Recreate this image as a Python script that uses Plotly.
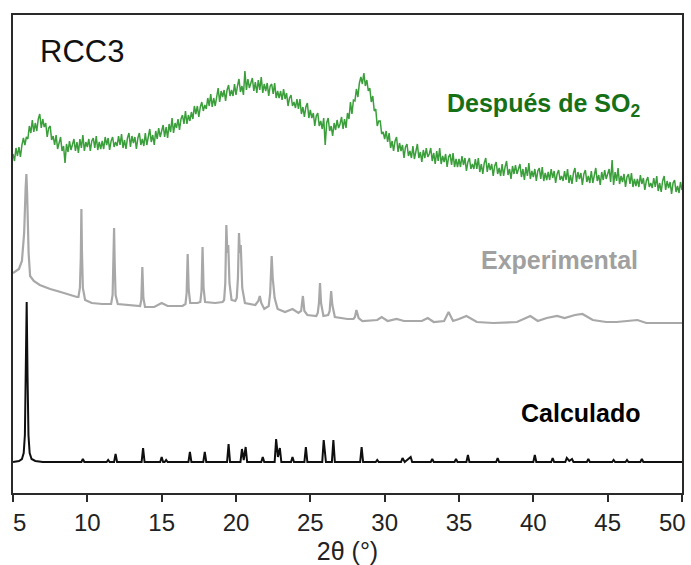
import numpy as np
import plotly.graph_objects as go

# --- Patrón tras exposición a SO2 (paso 0.1° en 2θ, 5–50°) ---
two_theta_so2 = np.linspace(5.0, 50.0, 451)
int_so2 = [
    339, 332, 345, 337, 346, 336, 348, 355, 348, 356,   # 5
    354, 367, 360, 373, 361, 370, 362, 374, 379, 365,   # 6
    374, 366, 370, 356, 365, 367, 353, 357, 348, 358,   # 7
    344, 351, 356, 342, 347, 330, 349, 341, 352, 343,   # 8
    348, 354, 342, 351, 340, 354, 345, 358, 342, 351,   # 9
    346, 354, 342, 352, 355, 345, 357, 343, 351, 344,   # 10
    352, 344, 356, 348, 355, 343, 352, 356, 346, 351,   # 11
    347, 357, 348, 359, 345, 353, 344, 355, 360, 346,   # 12
    357, 350, 356, 344, 355, 360, 348, 354, 347, 360,   # 13
    348, 357, 364, 351, 358, 348, 362, 354, 365, 356,   # 14
    361, 368, 356, 366, 355, 369, 361, 375, 360, 370,   # 15
    365, 374, 363, 374, 378, 369, 382, 369, 378, 372,   # 16
    381, 374, 387, 379, 387, 376, 386, 391, 382, 388,   # 17
    384, 395, 387, 399, 386, 395, 387, 399, 405, 391,   # 18
    402, 396, 403, 392, 403, 408, 397, 403, 397, 409,   # 19
    398, 407, 414, 401, 407, 398, 422, 403, 414, 405,   # 20
    409, 415, 402, 411, 400, 413, 403, 416, 400, 409,   # 21
    402, 410, 397, 407, 409, 399, 410, 395, 402, 395,   # 22
    402, 393, 404, 394, 400, 387, 395, 398, 387, 391,   # 23
    385, 394, 384, 394, 379, 386, 376, 386, 390, 375,   # 24
    383, 375, 380, 367, 377, 380, 367, 372, 364, 375,   # 25
    348, 370, 375, 362, 367, 357, 370, 363, 373, 365,   # 26
    369, 376, 364, 374, 365, 380, 374, 391, 379, 393,   # 27
    392, 404, 396, 410, 416, 409, 420, 407, 413, 402,   # 28
    405, 391, 397, 382, 384, 367, 372, 372, 359, 361,   # 29
    354, 362, 351, 360, 345, 352, 342, 352, 356, 341,   # 30
    350, 342, 348, 335, 346, 349, 337, 342, 335, 347,   # 31
    334, 343, 349, 335, 341, 331, 343, 335, 345, 336,   # 32
    339, 345, 332, 340, 329, 342, 332, 345, 329, 337,   # 33
    331, 339, 326, 336, 339, 328, 340, 326, 334, 326,   # 34
    334, 326, 337, 328, 335, 322, 331, 335, 324, 329,   # 35
    324, 334, 324, 335, 321, 329, 319, 330, 335, 321,   # 36
    330, 323, 329, 317, 327, 331, 319, 325, 317, 329,   # 37
    317, 326, 332, 318, 324, 314, 327, 319, 328, 319,   # 38
    323, 329, 316, 324, 313, 326, 317, 330, 314, 322,   # 39
    316, 324, 312, 322, 325, 314, 326, 312, 320, 313,   # 40
    321, 313, 324, 315, 322, 310, 319, 323, 313, 317,   # 41
    312, 322, 313, 324, 310, 318, 309, 320, 325, 311,   # 42
    321, 314, 320, 308, 319, 323, 311, 317, 310, 322,   # 43
    310, 319, 325, 312, 318, 308, 321, 313, 323, 314,   # 44
    318, 324, 311, 333, 308, 321, 312, 325, 309, 317,   # 45
    311, 319, 306, 316, 319, 309, 320, 306, 314, 307,   # 46
    314, 306, 318, 309, 315, 303, 312, 316, 306, 310,   # 47
    305, 315, 306, 317, 302, 310, 301, 312, 317, 303,   # 48
    312, 305, 311, 299, 310, 313, 301, 307, 300, 311,   # 49
    303,                                                # 50
]

# --- Patrón experimental ---
two_theta_exp = [
    5.0, 5.4, 5.6, 5.75, 5.85, 5.9, 5.95, 6.05, 6.15, 6.4, 6.8, 7.5, 8.2, 8.8, 9.3,
    9.4, 9.5, 9.56, 9.6, 9.64, 9.7, 9.85, 10.3, 11.0,
    11.6, 11.7, 11.76, 11.8, 11.84, 11.9, 12.05, 12.8,
    13.55, 13.63, 13.7, 13.77, 13.88, 14.5, 15.0, 15.4, 16.4,
    16.6, 16.68, 16.75, 16.82, 16.92, 17.4,
    17.6, 17.68, 17.75, 17.82, 17.92, 18.6, 19.1,
    19.2, 19.28, 19.35, 19.42, 19.48, 19.56, 19.7, 19.95,
    20.05, 20.13, 20.2, 20.26, 20.32, 20.42, 20.6,
    21.3, 21.5, 21.6, 21.7, 21.9,
    22.2, 22.3, 22.4, 22.47, 22.6, 22.8, 23.3, 23.8, 24.2,
    24.38, 24.5, 24.6, 24.8, 25.4,
    25.5, 25.58, 25.65, 25.72, 25.88, 26.2,
    26.3, 26.4, 26.48, 26.65, 27.5, 27.9,
    28.0, 28.1, 28.25, 28.5, 29.5, 29.8, 30.2, 30.8,
    31.3, 32.5, 32.9, 33.3, 34.0, 34.3, 34.6, 35.0, 35.5, 36.2,
    37.3, 38.9, 39.8, 40.3, 40.9, 41.6, 42.1, 42.8, 43.3, 44.0,
    44.9, 45.6, 47.0, 47.6, 48.7, 50.0,
]
int_exp = [
    220, 224, 232, 260, 305, 319, 300, 240, 217, 212, 208, 204, 201, 198, 196,
    196, 205, 235, 284, 240, 205, 193, 190, 189,
    189, 198, 228, 265, 230, 198, 189, 188,
    187, 193, 226, 195, 186, 186, 190, 187, 187,
    189, 200, 239, 203, 190, 190,
    191, 202, 246, 205, 191, 190, 191,
    193, 210, 268, 240, 248, 210, 193, 192,
    195, 215, 260, 240, 248, 205, 190,
    188, 192, 197, 190, 184,
    187, 200, 237, 215, 195, 184, 181, 184, 180,
    182, 197, 182, 178, 177,
    180, 190, 210, 190, 177, 178,
    182, 202, 188, 176, 174, 174,
    176, 183, 175, 172, 173, 176, 172, 174,
    172, 172, 175, 171, 172, 181, 172, 174, 177, 171,
    170, 171, 177, 172, 175, 177, 175, 178, 179, 173,
    171, 171, 173, 170, 170, 170,
]

# --- Patrón calculado ---
two_theta_calc = [
    5.0, 5.4, 5.6, 5.72, 5.8, 5.86, 5.92, 5.98, 6.04, 6.12, 6.25, 6.5, 7.0,
    9.6, 9.7, 9.8, 11.3, 11.4, 11.5, 11.8, 11.9, 12.0,
    13.65, 13.75, 13.85, 14.9, 15.0, 15.1, 15.2, 15.3, 15.4,
    16.8, 16.9, 17.0, 17.8, 17.9, 18.0, 19.4, 19.5, 19.6,
    20.3, 20.4, 20.52, 20.65, 20.75, 21.7, 21.8, 21.9,
    22.6, 22.7, 22.82, 22.95, 23.05, 23.7, 23.8, 23.9,
    24.6, 24.7, 24.8, 25.8, 25.9, 26.05, 26.45, 26.55, 26.65,
    28.35, 28.45, 28.55, 29.4, 29.5, 29.6, 31.1, 31.2, 31.35, 31.75, 31.85,
    33.1, 33.2, 33.3, 34.7, 34.8, 34.9, 35.5, 35.6, 35.7, 37.5, 37.6, 37.7,
    40.0, 40.1, 40.2, 41.2, 41.3, 41.4, 42.15, 42.25, 42.42, 42.6, 42.7,
    43.6, 43.7, 43.8, 45.3, 45.4, 45.5, 46.2, 46.3, 46.4, 47.2, 47.3, 47.4,
    50.0,
]
int_calc = [
    31, 32, 34, 40, 58, 115, 191, 115, 58, 40, 34, 32, 31,
    31, 34, 31, 31, 33, 31, 31, 39, 31,
    31, 45, 31, 31, 36, 31, 31, 33, 31,
    31, 41, 31, 31, 41, 31, 31, 49, 31,
    31, 44, 33, 46, 31, 31, 36, 31,
    31, 54, 36, 45, 31, 31, 36, 31,
    31, 46, 31, 31, 53, 31, 31, 53, 31,
    31, 46, 31, 31, 33, 31, 31, 35, 31, 36, 31,
    31, 34, 31, 31, 34, 31, 31, 38, 31, 31, 35, 31,
    31, 38, 31, 31, 35, 31, 31, 35, 32, 34, 31,
    31, 34, 31, 31, 33, 31, 31, 33, 31, 31, 34, 31,
    31,
]

x_ticks = [5, 10, 15, 20, 25, 30, 35, 40, 45, 50]
# the two end labels are placed separately so they stay inside the frame
x_ticktext = ["", "10", "15", "20", "25", "30", "35", "40", "45", ""]

GREEN_LINE = "rgb(58,158,58)"
GREEN_TEXT = "rgb(22,112,22)"
GRAY_LINE = "rgb(168,168,168)"
GRAY_TEXT = "rgb(160,160,160)"
BLACK = "rgb(15,15,15)"
AXIS = "#2a2a2a"
FONT = "Liberation Sans, Arial, sans-serif"

fig = go.Figure()
fig.add_trace(go.Scatter(x=two_theta_calc, y=int_calc, mode="lines",
                         line=dict(color=BLACK, width=2), showlegend=False))
fig.add_trace(go.Scatter(x=two_theta_exp, y=int_exp, mode="lines",
                         line=dict(color=GRAY_LINE, width=2.2), showlegend=False))
fig.add_trace(go.Scatter(x=two_theta_so2, y=int_so2, mode="lines",
                         line=dict(color=GREEN_LINE, width=1.5), showlegend=False))

fig.add_annotation(text="RCC3", xref="paper", yref="paper", x=0.037, y=0.923,
                   xanchor="left", yanchor="middle", showarrow=False,
                   font=dict(family=FONT, size=31, color="#111"))
fig.add_annotation(text="<b>Después de SO<sub>2</sub></b>", xref="paper", yref="paper",
                   x=0.94, y=0.812, xanchor="right", yanchor="middle", showarrow=False,
                   font=dict(family=FONT, size=25, color=GREEN_TEXT))
fig.add_annotation(text="<b>Experimental</b>", xref="paper", yref="paper",
                   x=0.937, y=0.487, xanchor="right", yanchor="middle", showarrow=False,
                   font=dict(family=FONT, size=25, color=GRAY_TEXT))
fig.add_annotation(text="<b>Calculado</b>", xref="paper", yref="paper",
                   x=0.94, y=0.167, xanchor="right", yanchor="middle", showarrow=False,
                   font=dict(family=FONT, size=25, color="#000"))

# end tick labels, nudged inward
fig.add_annotation(text=str(x_ticks[0]), xref="x", yref="paper", x=x_ticks[0], y=-0.062,
                   xanchor="left", yanchor="middle", showarrow=False, xshift=-2,
                   font=dict(family=FONT, size=24, color="#222"))
fig.add_annotation(text=str(x_ticks[-1]), xref="x", yref="paper", x=x_ticks[-1], y=-0.062,
                   xanchor="right", yanchor="middle", showarrow=False, xshift=6,
                   font=dict(family=FONT, size=24, color="#222"))

fig.update_layout(
    width=691, height=565,
    margin=dict(l=13, r=9, t=15, b=72),
    paper_bgcolor="white", plot_bgcolor="white",
    font=dict(family=FONT, color="#222"),
)
fig.update_xaxes(
    range=[5, 50], tickvals=x_ticks, ticktext=x_ticktext,
    showgrid=False, zeroline=False, automargin=False,
    showline=True, linecolor=AXIS, linewidth=2, mirror=True,
    ticks="outside", ticklen=7, tickwidth=2, tickcolor=AXIS,
    tickfont=dict(size=24, color="#222"),
    title=dict(text="2θ (°)", font=dict(size=25, color="#222"), standoff=10),
)
fig.update_yaxes(
    range=[0, 478], showgrid=False, zeroline=False, showticklabels=False,
    automargin=False,
    showline=True, linecolor=AXIS, linewidth=2, mirror=True, ticks="",
)

fig.write_html("out.html")
